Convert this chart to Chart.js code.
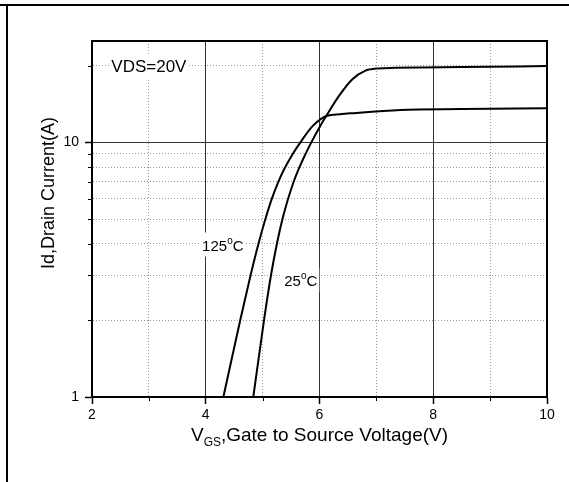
<!DOCTYPE html>
<html>
<head>
<meta charset="utf-8">
<script src="https://cdn.jsdelivr.net/npm/chart.js@4/dist/chart.umd.min.js"></script>
<style>
  html, body { margin: 0; padding: 0; background: #fff; }
</style>
</head>
<body>
<canvas id="myChart" width="569" height="482"></canvas>
<script>
// curves (Vgs in V, Id in A)
const vgs25 = [4.836, 5.024, 5.146, 5.251, 5.349, 5.448, 5.546, 5.629, 5.754, 5.856, 6.016, 6.121, 6.343, 6.578, 6.8, 7.029, 7.327, 8.5, 10];
const id25 = [1, 2, 3, 4, 5, 6, 7, 7.81, 9, 10, 11.63, 12.72, 15.22, 17.7, 19.09, 19.51, 19.61, 19.76, 19.92];
const vgs125 = [4.31, 4.606, 4.787, 4.927, 5.049, 5.161, 5.276, 5.374, 5.529, 5.664, 5.886, 6.132, 6.36, 6.54, 7.42, 8.5, 10];
const id125 = [1, 2, 3, 4, 5, 6, 7, 7.81, 9, 10, 11.63, 12.72, 12.9, 13.0, 13.4, 13.51, 13.61];

const xTicks = [2, 3, 4, 5, 6, 7, 8, 9, 10];
const xLabels = [2, 4, 6, 8, 10];
const yTicks = [1, 2, 3, 4, 5, 6, 7, 8, 9, 10, 20];
const yLabels = [1, 10];

const FONT = 'Arial, "Liberation Sans", sans-serif';
const chartCtx = document.getElementById("myChart").getContext("2d");

const toPoints = (xs, ys) => xs.map((x, i) => ({ x, y: ys[i] }));

const isMajorX = (v) => v === 4 || v === 6 || v === 8;
const isMinorX = (v) => v % 2 === 1;
const isMajorY = (v) => v === 10;
const isMinorY = (v) => v > 1 && v < 25 && v !== 10;

// free text inside the plot, with a white box behind it
const drawTag = (ctx, parts, cx, cy) => {
  let w = 0;
  parts.forEach((p) => {
    ctx.font = `${p.size}px ${FONT}`;
    p.w = ctx.measureText(p.text).width;
    w += p.w;
  });
  ctx.fillStyle = "#fff";
  ctx.fillRect(cx - w / 2 - 2, cy - 12, w + 4, 24);
  ctx.fillStyle = "#000";
  ctx.textBaseline = "alphabetic";
  ctx.textAlign = "left";
  let x = cx - w / 2;
  parts.forEach((p) => {
    ctx.font = `${p.size}px ${FONT}`;
    ctx.fillText(p.text, x, cy + 6 + (p.dy || 0));
    x += p.w;
  });
};

const decor = {
  id: "decor",
  beforeDraw(chart) {
    const { ctx } = chart;
    ctx.save();
    ctx.fillStyle = "#fff";
    ctx.fillRect(0, 0, chart.width, chart.height);
    ctx.strokeStyle = "#000";
    ctx.lineWidth = 2;
    ctx.beginPath();
    ctx.moveTo(0, 5);
    ctx.lineTo(chart.width, 5);
    ctx.moveTo(7, 5);
    ctx.lineTo(7, chart.height);
    ctx.stroke();
    ctx.restore();
  },
  afterDatasetsDraw(chart) {
    const { ctx, chartArea: ca, scales } = chart;
    const sx = scales.x;
    const sy = scales.y;
    ctx.save();

    // frame round the plot
    ctx.strokeStyle = "#000";
    ctx.lineWidth = 2;
    ctx.strokeRect(ca.left, ca.top, ca.right - ca.left, ca.bottom - ca.top);

    // short minor ticks
    ctx.lineWidth = 1;
    ctx.beginPath();
    xTicks.filter(isMinorX).forEach((v) => {
      const px = Math.round(sx.getPixelForValue(v)) + 0.5;
      ctx.moveTo(px, ca.bottom);
      ctx.lineTo(px, ca.bottom + 4);
    });
    yTicks.filter(isMinorY).forEach((v) => {
      const py = Math.round(sy.getPixelForValue(v)) + 0.5;
      ctx.moveTo(ca.left - 4, py);
      ctx.lineTo(ca.left, py);
    });
    ctx.stroke();

    // labels inside the plot
    drawTag(ctx, [{ text: "VDS=20V", size: 17 }], sx.getPixelForValue(3), sy.getPixelForValue(20));
    drawTag(
      ctx,
      [{ text: "125", size: 15 }, { text: "o", size: 10, dy: -7 }, { text: "C", size: 15 }],
      sx.getPixelForValue(4.3),
      sy.getPixelForValue(3.97),
    );
    drawTag(
      ctx,
      [{ text: "25", size: 15 }, { text: "o", size: 10, dy: -7 }, { text: "C", size: 15 }],
      sx.getPixelForValue(5.67),
      sy.getPixelForValue(2.89),
    );

    // axis titles
    ctx.fillStyle = "#000";
    ctx.textBaseline = "alphabetic";
    ctx.textAlign = "left";
    const parts = [
      { text: "V", size: 19, dy: 0 },
      { text: "GS", size: 12, dy: 5 },
      { text: ",Gate to Source Voltage(V)", size: 19, dy: 0 },
    ];
    let tw = 0;
    parts.forEach((p) => {
      ctx.font = `${p.size}px ${FONT}`;
      p.w = ctx.measureText(p.text).width;
      tw += p.w;
    });
    let x = (ca.left + ca.right) / 2 - tw / 2;
    parts.forEach((p) => {
      ctx.font = `${p.size}px ${FONT}`;
      ctx.fillText(p.text, x, 441 + p.dy);
      x += p.w;
    });

    ctx.translate(49, 193);
    ctx.rotate(-Math.PI / 2);
    ctx.textAlign = "center";
    ctx.textBaseline = "middle";
    ctx.font = `18px ${FONT}`;
    ctx.fillText("Id,Drain Current(A)", 0, 0);
    ctx.restore();
  },
};

const lineStyle = {
  borderColor: "#000",
  borderWidth: 2,
  pointRadius: 0,
  fill: false,
  cubicInterpolationMode: "monotone",
};

new Chart(chartCtx, {
  type: "line",
  data: {
    datasets: [
      { label: "25°C", data: toPoints(vgs25, id25), ...lineStyle },
      { label: "125°C", data: toPoints(vgs125, id125), ...lineStyle },
    ],
  },
  options: {
    responsive: false,
    animation: false,
    events: [],
    layout: { padding: { top: 41, right: 22, left: 0, bottom: 0 } },
    plugins: {
      legend: { display: false },
      tooltip: { enabled: false },
    },
    scales: {
      x: {
        type: "linear",
        min: 2,
        max: 10,
        afterBuildTicks: (scale) => {
          scale.ticks = xTicks.map((value) => ({ value }));
        },
        afterFit: (scale) => {
          scale.height = 85;
        },
        ticks: {
          autoSkip: false,
          maxRotation: 0,
          padding: 3,
          color: "#000",
          font: { family: FONT, size: 14 },
          callback: (v) => (xLabels.includes(v) ? String(v) : ""),
        },
        grid: {
          color: (c) => (isMajorX(c.tick.value) ? "#333" : isMinorX(c.tick.value) ? "#999" : "rgba(0,0,0,0)"),
          lineWidth: 1,
          tickLength: 7,
          tickWidth: 1.5,
          tickColor: (c) => (xLabels.includes(c.tick.value) ? "#000" : "rgba(0,0,0,0)"),
        },
        border: {
          display: true,
          color: "#000",
          width: 2,
          dash: (c) => (c.tick && isMinorX(c.tick.value) ? [1, 2] : []),
        },
      },
      y: {
        type: "logarithmic",
        min: 1,
        max: 25,
        afterBuildTicks: (scale) => {
          scale.ticks = yTicks.map((value) => ({ value }));
        },
        afterFit: (scale) => {
          scale.width = 92;
        },
        ticks: {
          autoSkip: false,
          padding: 6,
          color: "#000",
          font: { family: FONT, size: 14 },
          callback: (v) => (yLabels.includes(v) ? String(v) : ""),
        },
        grid: {
          color: (c) => (isMajorY(c.tick.value) ? "#333" : isMinorY(c.tick.value) ? "#999" : "rgba(0,0,0,0)"),
          lineWidth: 1,
          tickLength: 7,
          tickWidth: 1.5,
          tickColor: (c) => (yLabels.includes(c.tick.value) ? "#000" : "rgba(0,0,0,0)"),
        },
        border: {
          display: true,
          color: "#000",
          width: 2,
          dash: (c) => (c.tick && isMinorY(c.tick.value) ? [1, 2] : []),
        },
      },
    },
  },
  plugins: [decor],
});
</script>
</body>
</html>
